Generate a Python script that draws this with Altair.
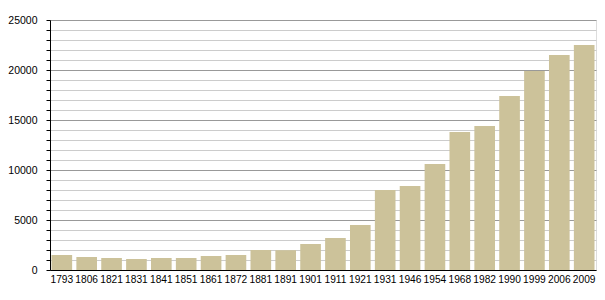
import altair as alt
import pandas as pd

years = ["1793", "1806", "1821", "1831", "1841", "1851", "1861", "1872", "1881", "1891",
         "1901", "1911", "1921", "1931", "1946", "1954", "1968", "1982", "1990", "1999",
         "2006", "2009"]
population = [1500, 1300, 1200, 1100, 1200, 1200, 1400, 1500, 2000, 1980,
              2600, 3200, 4500, 8000, 8400, 10600, 13800, 14400, 17400, 19900,
              21500, 22500]

y_ticks = list(range(0, 25001, 1000))

df = pd.DataFrame({"year": years, "pop": population})

chart = alt.Chart(df).mark_bar(color="#CCC29A").encode(
    x=alt.X("year:N", sort=None, title=None,
            scale=alt.Scale(paddingInner=0.17, paddingOuter=0.06),
            axis=alt.Axis(labelAngle=0, ticks=False, domainColor="#000000",
                          labelFont="Liberation Sans", labelFontSize=10.2,
                          labelColor="#000000", labelPadding=4)),
    y=alt.Y("pop:Q", title=None,
            scale=alt.Scale(domain=[0, 25000], nice=False),
            axis=alt.Axis(values=y_ticks, format="d",
                          labelExpr="datum.value % 5000 === 0 ? datum.label : ''",
                          grid=True,
                          gridColor={"condition": {"test": "datum.value % 5000 === 0", "value": "#999999"}, "value": "#CCCCCC"},
                          gridWidth=1,
                          tickSize=4, tickColor="#000000",
                          domainColor="#000000",
                          labelFont="Liberation Sans", labelFontSize=10.5,
                          labelColor="#000000", labelPadding=9)),
).properties(
    width=546, height=250,
    padding={"left": 50, "top": 20, "right": 9, "bottom": 30},
    autosize="none",
).configure_view(stroke=None).configure(background="white")

chart.save("out.html", embed_options={"renderer": "svg", "actions": False})
